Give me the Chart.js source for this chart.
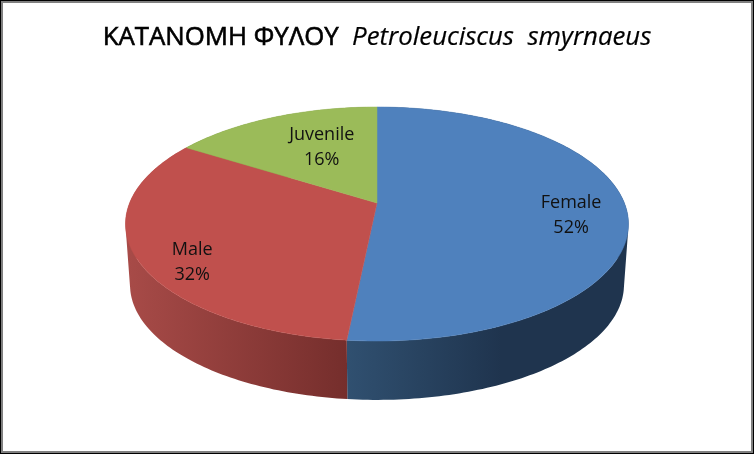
<!DOCTYPE html>
<html>
<head>
<meta charset="utf-8">
<script src="https://cdn.jsdelivr.net/npm/chart.js@4"></script>
<style>
  html, body { margin: 0; padding: 0; background: #fff; }
  #wrap { position: relative; width: 754px; height: 454px; overflow: hidden; }
  #pie { position: absolute; left: 0; top: 0; }
  #title { position: absolute; left: 0; top: 17px; width: 754px; text-align: center; white-space: pre;
           font: 25.8px/36px "Open Sans", sans-serif; color: #000; -webkit-text-stroke: 0.6px #000; }
  #title i { -webkit-text-stroke: 0.2px #000; }
  #frame { position: absolute; inset: 0; box-sizing: border-box; border: solid #000; border-width: 1px; }
  #frame div { position: absolute; inset: 0; border: 2px solid #808080; }
</style>
</head>
<body>
<div id="wrap">
  <canvas id="pie" width="754" height="454"></canvas>
  <div id="title">ΚΑΤΑΝΟΜΗ ΦΥΛΟΥ  <i>Petroleuciscus  smyrnaeus</i></div>
  <div id="frame"><div></div></div>
</div>
<script>
const categories = ['Female', 'Male', 'Juvenile'];
const shares = [51.6, 32.4, 16];
const topColors = ['#4F81BD', '#C0504D', '#9BBB59'];

// side wall shading, dark end is towards the front seam for red, to the right for blue
const wallStops = [
  [[0, '#305070'], [0.55, '#1F344E'], [1, '#1F344E']],
  [[0, '#A84B48'], [1, '#752E2C']],
  [[0, '#6F8A3E'], [1, '#6F8A3E']],
];

// where each label sits: fraction of the radius, then a small nudge down
const labelPlace = [[0.78, 7], [0.78, 18], [0.5, -10]];

const FLOOR_SHRINK = 0.982, DEPTH = 61;

// perspective of the disc, angle runs clockwise from 12 o'clock
function rim(theta, frac) {
  const u = Math.sin(theta) * frac, v = -Math.cos(theta) * frac;
  const w = 1 - 0.1795 * v;
  return [377 + 247.4 * u / w, (203 + 76.8 * v) / w];
}
function floorRim(theta) {
  const [x, y] = rim(theta, 1);
  return [377 + (x - 377) * FLOOR_SHRINK, 224 + (y - 224) * FLOOR_SHRINK + DEPTH];
}
function angles(a, b, pick) {
  const pts = [];
  const n = Math.ceil((b - a) / (Math.PI / 180));
  for (let i = 0; i <= n; i++) pts.push(pick(a + (b - a) * i / n));
  return pts;
}
function area(q) {
  return q.reduce((s, p, i) => {
    const n = q[(i + 1) % q.length];
    return s + p[0] * n[1] - n[0] * p[1];
  }, 0);
}

const pie3d = {
  id: 'pie3d',
  beforeDatasetsDraw(chart) {
    const ctx = chart.ctx;
    const arcs = chart.getDatasetMeta(0).data;
    const spans = arcs.map(arc => [arc.startAngle + Math.PI / 2, arc.endAngle + Math.PI / 2]);

    // walls first, the top surface covers whatever is at the back
    spans.forEach(([a, b], i) => {
      const upper = angles(a, b, t => rim(t, 1));
      const lower = angles(a, b, floorRim);
      const xs = upper.concat(lower).map(p => p[0]);
      const grad = ctx.createLinearGradient(Math.min(...xs), 0, Math.max(...xs), 0);
      wallStops[i].forEach(s => grad.addColorStop(s[0], s[1]));
      // one quad per degree in a single path, same winding, so no seams between them
      ctx.beginPath();
      for (let k = 0; k < upper.length - 1; k++) {
        const q = [upper[k], upper[k + 1], lower[k + 1], lower[k]];
        if (area(q) < 0) q.reverse();
        q.forEach((p, m) => m ? ctx.lineTo(p[0], p[1]) : ctx.moveTo(p[0], p[1]));
        ctx.closePath();
      }
      ctx.fillStyle = grad;
      ctx.fill();
    });

    spans.forEach(([a, b], i) => {
      const apex = rim(0, 0);
      ctx.beginPath();
      ctx.moveTo(apex[0], apex[1]);
      angles(a, b, t => rim(t, 1)).forEach(p => ctx.lineTo(p[0], p[1]));
      ctx.closePath();
      ctx.fillStyle = topColors[i];
      ctx.strokeStyle = topColors[i];
      ctx.lineWidth = 0.5;
      ctx.fill();
      ctx.stroke();
    });

    ctx.fillStyle = '#111';
    ctx.font = '18px "Open Sans", sans-serif';
    ctx.textAlign = 'center';
    ctx.textBaseline = 'middle';
    spans.forEach(([a, b], i) => {
      const [x, y] = rim((a + b) / 2, labelPlace[i][0]);
      const cy = y + labelPlace[i][1];
      ctx.fillText(categories[i], x, cy - 12);
      ctx.fillText(Math.round(shares[i]) + '%', x, cy + 13);
    });
    return false;
  }
};

new Chart(document.getElementById('pie'), {
  type: 'pie',
  data: {
    labels: categories,
    datasets: [{ data: shares, backgroundColor: topColors, borderWidth: 0 }]
  },
  options: {
    responsive: false,
    animation: false,
    events: [],
    plugins: { legend: { display: false }, tooltip: { enabled: false } }
  },
  plugins: [pie3d]
});
</script>
</body>
</html>
